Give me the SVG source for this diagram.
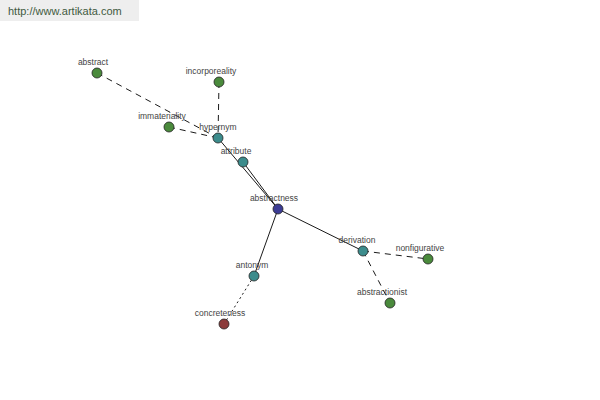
<svg xmlns="http://www.w3.org/2000/svg" width="600" height="400" viewBox="0 0 600 400">
<style>
.n{stroke:#222;stroke-width:0.8}
.g{fill:#4a8a3c}.t{fill:#3c8c8c}.b{fill:#3c3c94}.r{fill:#8c3c3c}
text{font-family:"Liberation Sans",Arial,sans-serif;font-size:8.5px;fill:#444;text-anchor:middle}
.e{stroke:#000;stroke-width:0.9;fill:none}
.d{stroke-dasharray:6,5}
.o{stroke-dasharray:2,3}
</style>
<rect width="600" height="400" fill="#fff"/>
<rect x="0" y="0" width="139" height="21" fill="#eeeeee"/>
<text x="8" y="15" style="font-size:11px;fill:#3f5a3f;text-anchor:start">http://www.artikata.com</text>
<g id="connectors">
<line class="e" x1="278" y1="209" x2="218" y2="138"/>
<line class="e" x1="278" y1="209" x2="243" y2="162"/>
<line class="e" x1="278" y1="209" x2="363" y2="251"/>
<line class="e" x1="278" y1="209" x2="254" y2="276"/>
<line class="e d" x1="97" y1="73" x2="218" y2="138"/>
<line class="e d" x1="169" y1="127" x2="218" y2="138"/>
<line class="e d" x1="219" y1="82" x2="218" y2="138"/>
<line class="e d" x1="363" y1="251" x2="428" y2="259"/>
<line class="e d" x1="363" y1="251" x2="390" y2="303"/>
<line class="e o" x1="254" y1="276" x2="224" y2="324"/>
</g>
<g id="abstractness"><circle class="n b" cx="278" cy="209" r="5"/><text x="274" y="201">abstractness</text></g>
<g id="hypernym"><circle class="n t" cx="218" cy="138" r="5"/><text x="218" y="130">hypernym</text></g>
<g id="attribute"><circle class="n t" cx="243" cy="162" r="5"/><text x="236" y="154">attribute</text></g>
<g id="derivation"><circle class="n t" cx="363" cy="251" r="5"/><text x="357" y="243">derivation</text></g>
<g id="antonym"><circle class="n t" cx="254" cy="276" r="5"/><text x="252" y="268">antonym</text></g>
<g id="abstract"><circle class="n g" cx="97" cy="73" r="5"/><text x="93" y="65">abstract</text></g>
<g id="incorporeality"><circle class="n g" cx="219" cy="82" r="5"/><text x="211" y="74">incorporeality</text></g>
<g id="immateriality"><circle class="n g" cx="169" cy="127" r="5"/><text x="162" y="119">immateriality</text></g>
<g id="nonfigurative"><circle class="n g" cx="428" cy="259" r="5"/><text x="420" y="251">nonfigurative</text></g>
<g id="abstractionist"><circle class="n g" cx="390" cy="303" r="5"/><text x="382" y="295">abstractionist</text></g>
<g id="concreteness"><circle class="n r" cx="224" cy="324" r="5"/><text x="220" y="316">concreteness</text></g>
</svg>
